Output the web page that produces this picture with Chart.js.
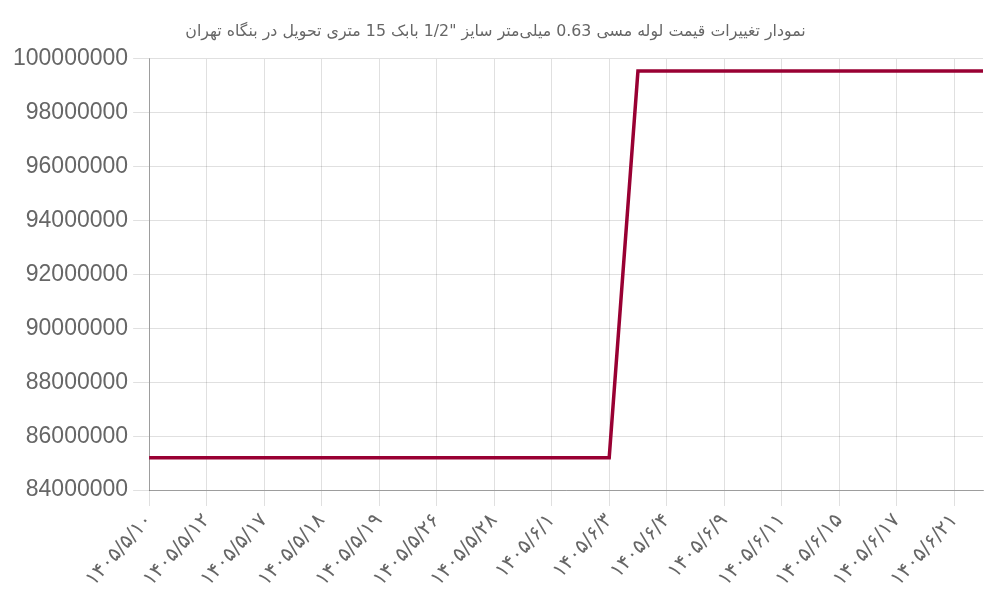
<!DOCTYPE html>
<html>
<head>
<meta charset="utf-8">
<script src="https://cdn.jsdelivr.net/npm/chart.js@4"></script>
<style>
  html, body { margin: 0; padding: 0; background: #fff; }
  #wrap { width: 1000px; height: 600px; }
</style>
</head>
<body>
<div id="wrap"><canvas id="price-chart"></canvas></div>
<script>
// dates (Persian calendar), only every other one is shown on the axis
const dates = [
  '۱۴۰۵/۵/۱۰', '۱۴۰۵/۵/۱۱', '۱۴۰۵/۵/۱۲', '۱۴۰۵/۵/۱۵', '۱۴۰۵/۵/۱۷', '۱۴۰۵/۵/۱۷',
  '۱۴۰۵/۵/۱۸', '۱۴۰۵/۵/۱۸', '۱۴۰۵/۵/۱۹', '۱۴۰۵/۵/۲۵', '۱۴۰۵/۵/۲۶', '۱۴۰۵/۵/۲۷',
  '۱۴۰۵/۵/۲۸', '۱۴۰۵/۵/۳۱', '۱۴۰۵/۶/۱', '۱۴۰۵/۶/۲', '۱۴۰۵/۶/۳', '۱۴۰۵/۶/۳',
  '۱۴۰۵/۶/۴', '۱۴۰۵/۶/۸', '۱۴۰۵/۶/۹', '۱۴۰۵/۶/۱۰', '۱۴۰۵/۶/۱۱', '۱۴۰۵/۶/۱۴',
  '۱۴۰۵/۶/۱۵', '۱۴۰۵/۶/۱۶', '۱۴۰۵/۶/۱۷', '۱۴۰۵/۶/۲۰', '۱۴۰۵/۶/۲۱', '۱۴۰۵/۶/۲۲'
];
const prices = [
  85200000, 85200000, 85200000, 85200000, 85200000, 85200000,
  85200000, 85200000, 85200000, 85200000, 85200000, 85200000,
  85200000, 85200000, 85200000, 85200000, 85200000, 99550000,
  99550000, 99550000, 99550000, 99550000, 99550000, 99550000,
  99550000, 99550000, 99550000, 99550000, 99550000, 99550000
];
const yMin = 84000000;
const yMax = 100000000;
const yStep = 2000000;
const chartTitle = 'نمودار تغییرات قیمت لوله مسی 0.63 میلی‌متر سایز "1/2 بابک 15 متری تحویل در بنگاه تهران';

var box = document.getElementById('price-chart');
var grafico = new Chart(box, {
  type: 'line',
  data: {
    labels: dates,
    datasets: [{
      label: 'قیمت',
      data: prices,
      borderColor: '#990033',
      backgroundColor: '#990033',
      borderWidth: 3.5,
      pointRadius: 0,
      tension: 0,
      fill: false
    }]
  },
  options: {
    responsive: true,
    maintainAspectRatio: false,
    animation: false,
    layout: { padding: { left: 8, right: 17, top: 0, bottom: 6 } },
    plugins: {
      legend: { display: false },
      title: {
        display: true,
        text: chartTitle,
        color: '#666',
        font: { family: 'DejaVu Sans', size: 15.8, weight: 'normal' },
        padding: { top: 22, bottom: 18 }
      },
      tooltip: { enabled: false }
    },
    scales: {
      x: {
        grid: { color: 'rgba(0,0,0,0.12)', tickLength: 16 },
        border: { color: 'rgba(0,0,0,0.3)' },
        ticks: {
          autoSkip: true,
          maxTicksLimit: 15,
          maxRotation: 48,
          minRotation: 48,
          color: '#666',
          font: { family: 'DejaVu Sans', size: 20 }
        }
      },
      y: {
        min: yMin,
        max: yMax,
        grid: { color: 'rgba(0,0,0,0.12)', tickLength: 16 },
        border: { color: 'rgba(0,0,0,0.3)' },
        ticks: {
          stepSize: yStep,
          color: '#666',
          padding: 5,
          font: { family: 'Liberation Sans', size: 23 },
          callback: function (value) {
            return String(value);
          }
        }
      }
    }
  }
});
</script>
</body>
</html>
